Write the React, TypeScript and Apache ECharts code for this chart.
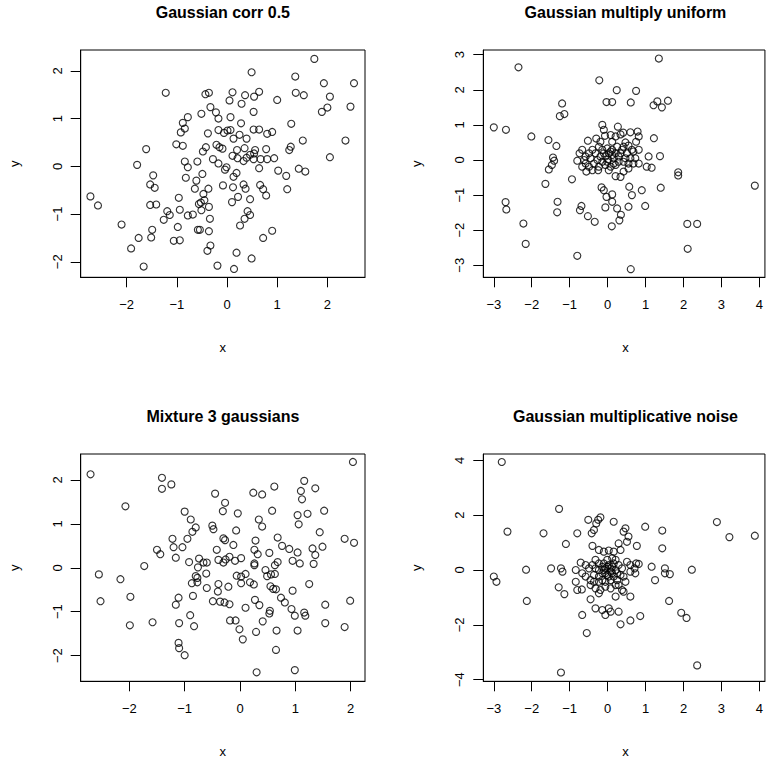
import React, { useEffect, useRef } from "react";
import * as echarts from "echarts";

// ---------- data ----------
const corrX = [-1.22,-0.43,-0.36,-0.33,-0.22,-0.51,-0.78,-0.88,-0.84,-0.92,-0.38,-0.17,-0.17,-1.61,-1.01,-0.88,-0.42,-0.48,-0.21,-0.15,-1.79,-0.84,-0.78,-0.59,-0.28,-0.17,-1.47,-1.53,-1.44,-0.82,-0.61,-0.49,-0.64,-0.37,-2.72,-2.57,-0.96,-1.53,-1.41,-0.47,-0.45,-0.56,-0.52,-0.36,-0.94,-0.51,-1.19,-1.14,-1.26,-0.78,-0.68,-0.34,-2.10,-0.98,-1.49,-1.51,-1.76,-0.58,-0.54,-0.36,-1.91,-1.06,-0.94,-0.33,-0.39,-1.66,-0.19,
  1.74,0.49,1.36,1.93,2.53,0.11,0.36,0.64,0.54,0.05,0.29,1.37,1.53,2.05,1.00,2.00,1.89,2.46,0.07,0.53,0.28,1.28,-0.06,0.01,0.07,0.53,0.64,0.80,0.90,0.13,0.25,0.39,1.51,2.36,-0.09,0.20,0.35,0.56,0.54,0.78,1.27,1.24,0.11,0.21,0.33,0.39,0.46,0.53,0.67,0.80,0.94,2.05,-0.04,-0.01,0.64,1.02,1.18,1.43,1.56,0.19,0.13,-0.08,0.12,0.33,0.37,0.66,0.72,0.78,1.20,0.22,0.10,0.46,0.41,0.35,0.46,0.26,0.90,0.72,0.19,0.49,0.14];
const corrY = [1.54,1.51,1.54,1.24,1.13,1.10,1.03,0.91,0.79,0.71,0.69,1.00,0.76,0.36,0.46,0.43,0.40,0.31,0.45,0.40,0.03,0.10,-0.02,0.10,0.15,0.06,-0.19,-0.38,-0.45,-0.24,-0.30,-0.16,-0.47,-0.47,-0.63,-0.82,-0.66,-0.81,-0.80,-0.58,-0.71,-0.79,-0.76,-0.85,-0.91,-0.92,-0.94,-1.02,-1.12,-1.03,-1.01,-1.10,-1.22,-1.27,-1.33,-1.49,-1.50,-1.33,-1.33,-1.36,-1.72,-1.56,-1.55,-1.66,-1.77,-2.10,-2.08,
  2.25,1.97,1.88,1.74,1.74,1.55,1.49,1.56,1.46,1.38,1.31,1.54,1.49,1.46,1.39,1.23,1.14,1.25,1.03,1.14,0.90,0.89,0.70,0.75,0.76,0.77,0.77,0.68,0.72,0.58,0.66,0.58,0.54,0.54,0.37,0.34,0.38,0.34,0.27,0.36,0.41,0.34,0.22,0.17,0.11,0.18,0.24,0.15,0.15,0.15,0.17,0.19,-0.07,-0.02,-0.04,-0.09,-0.20,-0.05,-0.11,-0.14,-0.22,-0.40,-0.44,-0.38,-0.47,-0.39,-0.48,-0.61,-0.48,-0.64,-0.75,-0.69,-0.94,-1.10,-1.02,-1.24,-1.35,-1.50,-1.81,-1.93,-2.15];

const unifX = [-2.35,-3.00,-2.68,-2.01,-0.22,-0.03,-1.20,-1.56,-1.35,-1.44,-1.41,-1.47,-1.55,-1.64,-2.69,-2.67,-1.32,-1.33,-2.22,-2.16,-0.80,-0.73,-0.52,-0.34,
  1.35,0.24,0.75,0.12,0.61,1.21,1.31,1.43,1.59,1.86,1.86,3.88,0.31,0.35,0.11,2.10,2.36,2.11,0.61,
  -1.26,-1.14,-0.14,-0.10,-0.07,0.27,0.41,0.60,0.79,0.82,1.22,-0.52,-0.30,0.08,0.21,0.34,0.47,0.55,0.75,0.82,-0.67,-0.74,-0.80,-0.62,-0.45,-0.32,-0.23,-0.14,-0.01,0.12,0.25,0.38,0.51,0.60,0.68,0.55,0.42,0.34,0.21,0.08,-0.06,-0.14,-0.23,-0.36,-0.49,-0.56,-0.40,-0.25,0.01,0.16,0.29,0.42,0.73,0.82,1.08,1.38,1.03,1.16,-0.94,-0.16,-0.10,0.12,-0.03,0.12,0.57,0.90,0.64,1.40,-0.69,-0.06,0.25,0.55,0.99,
  0.03,-0.06,0.12,0.21,0.08,-0.10,-0.01,0.16,0.29,-0.19,-0.27,0.34,0.21,0.03,-0.40,-0.49,-0.58,0.64,0.47,0.55,-0.58,-0.67,-0.19,0.12,0.42,0.68];
const unifY = [2.64,0.93,0.86,0.67,2.27,1.65,1.61,0.57,0.40,0.07,-0.02,-0.14,-0.27,-0.68,-1.20,-1.41,-1.19,-1.49,-1.81,-2.39,-2.73,-1.43,-1.60,-1.76,
  2.89,1.99,1.97,1.65,1.64,1.56,1.67,1.50,1.69,-0.35,-0.44,-0.73,-1.72,-1.56,-1.89,-1.82,-1.82,-2.53,-3.11,
  1.25,1.31,1.00,0.86,0.69,0.95,0.78,0.79,0.81,0.67,0.62,0.55,0.61,0.71,0.67,0.73,0.50,0.41,0.52,0.29,0.29,0.19,-0.02,0.00,0.05,0.19,0.38,0.29,0.33,0.29,0.38,0.29,0.19,0.05,-0.10,-0.24,-0.33,-0.48,-0.46,-0.19,-0.14,-0.05,-0.19,-0.10,-0.19,-0.33,-0.29,-0.29,0.02,0.05,0.10,-0.05,0.05,-0.10,0.10,0.11,-0.19,-0.22,-0.55,-0.78,-0.86,-0.98,-1.05,-1.19,-0.76,-0.86,-1.00,-0.79,-1.31,-1.35,-1.38,-1.33,-1.31,
  0.19,0.10,0.14,0.19,0.24,0.19,-0.05,-0.10,-0.05,0.10,0.00,0.19,-0.14,-0.29,0.29,0.19,0.10,0.29,0.05,-0.10,-0.10,-0.19,0.52,0.52,0.38,0.24];

const mixX = [-2.70,-1.41,-1.24,-1.41,-0.45,-2.07,-1.00,-0.89,-0.80,-0.86,-0.50,-0.48,-0.95,-1.22,-1.20,-1.04,-1.50,-1.44,-1.16,-0.42,-0.39,-0.92,-0.74,-0.76,-0.66,-0.60,-0.61,-0.80,-0.77,-0.87,-0.77,-1.73,-2.55,-2.16,-0.60,-0.39,-0.40,-0.49,-2.52,-1.98,-1.11,-1.16,-0.85,-0.90,-0.83,-1.10,-1.58,-1.99,-1.11,-1.10,-1.00,
  2.04,1.16,1.10,1.12,1.36,0.62,0.24,0.40,-0.27,-0.31,-0.04,0.58,0.34,0.40,1.04,1.06,1.22,1.52,-0.07,-0.30,-0.27,1.44,1.89,2.06,0.28,0.68,0.76,0.89,1.04,1.31,1.49,1.36,-0.12,0.26,0.32,0.53,-0.30,-0.26,-0.19,-0.09,0.02,0.26,0.26,0.68,0.63,0.95,1.08,1.33,-0.06,0.02,0.10,0.02,0.18,0.25,0.46,0.49,0.56,0.63,-0.21,0.55,0.60,0.65,0.95,1.25,-0.36,-0.28,-0.19,0.10,0.27,0.35,0.74,0.81,0.93,0.99,1.16,1.18,0.54,0.53,0.41,1.54,1.99,1.54,1.89,-0.18,-0.08,-0.01,0.05,0.29,0.66,1.04,0.65,0.30,0.99];
const mixY = [2.13,2.05,1.90,1.80,1.69,1.40,1.28,1.10,0.92,0.82,0.96,0.88,0.66,0.66,0.47,0.47,0.41,0.31,0.23,0.41,0.18,0.13,0.21,0.01,0.12,0.12,-0.13,-0.19,-0.23,-0.35,-0.33,0.04,-0.15,-0.26,-0.46,-0.37,-0.54,-0.76,-0.76,-0.66,-0.68,-0.84,-0.64,-1.08,-1.33,-1.26,-1.24,-1.31,-1.71,-1.83,-1.99,
  2.41,1.98,1.75,1.56,1.81,1.85,1.71,1.67,1.48,1.29,1.24,1.30,1.10,0.94,1.20,0.99,1.23,1.30,0.85,0.67,0.63,0.81,0.66,0.57,0.62,0.69,0.50,0.43,0.35,0.44,0.48,0.29,0.52,0.41,0.31,0.34,0.12,0.19,0.25,0.16,0.22,0.10,0.06,0.13,0.06,0.16,0.10,0.09,-0.18,-0.20,-0.14,-0.35,-0.33,-0.38,-0.05,-0.19,-0.15,-0.14,-0.43,-0.42,-0.48,-0.49,-0.52,-0.37,-0.77,-0.79,-0.83,-0.91,-0.73,-0.85,-0.68,-0.79,-0.94,-1.09,-1.02,-1.09,-0.98,-1.04,-1.22,-0.84,-0.75,-1.26,-1.35,-1.20,-1.20,-1.40,-1.63,-1.46,-1.43,-1.43,-1.87,-2.38,-2.33];

const noiseX = [-2.79,-1.28,-2.64,-1.69,-2.15,-3.00,-2.93,-2.13,-0.55,-1.23,
  2.88,3.21,3.88,1.64,2.22,1.62,1.94,2.08,0.60,0.34,2.36,
  -0.51,-0.30,-0.19,-0.25,-0.36,-0.42,0.16,0.47,0.42,0.55,0.51,0.99,1.44,-0.80,-1.10,-0.40,0.29,0.77,1.44,-0.23,-0.10,0.03,0.16,0.34,-0.71,-0.58,-0.49,-0.40,-0.32,-0.23,-0.14,-0.06,0.03,0.12,0.21,0.29,0.38,0.51,0.60,0.71,0.82,0.75,1.16,1.51,-1.49,-1.23,-1.19,-0.84,-0.67,-0.58,-0.45,-0.36,-0.23,-0.14,-0.01,0.08,0.16,0.25,0.34,0.42,0.47,0.60,0.73,1.25,1.51,-0.84,-0.45,-0.32,-0.19,-0.06,0.08,0.21,0.38,0.42,-1.29,-1.14,-0.80,-0.68,-0.23,0.21,0.60,-0.45,-0.32,-0.14,0.03,0.08,0.29,0.86,-0.67,-0.06,
  -0.10,-0.01,0.08,0.12,-0.06,0.03,-0.14,0.16,0.25,-0.23,-0.32,-0.10,-0.01,0.12,0.21,0.08,-0.06,-0.23,0.29,-0.36];
const noiseY = [3.94,2.23,1.40,1.34,0.01,-0.24,-0.43,-1.13,-2.30,-3.74,
  1.75,1.20,1.25,-0.15,0.01,-1.13,-1.56,-1.75,-1.84,-1.98,-3.48,
  1.83,1.70,1.92,1.83,1.46,1.34,1.76,1.52,1.40,1.22,1.03,1.58,1.44,1.34,0.95,0.88,0.97,0.88,0.79,0.73,0.67,0.71,0.67,0.73,0.27,0.18,0.06,0.18,0.37,0.24,0.12,0.06,0.18,0.12,0.00,0.18,0.06,0.30,0.18,0.06,0.22,0.24,0.12,0.06,0.06,0.06,-0.06,0.00,-0.12,-0.24,-0.37,-0.18,-0.24,-0.37,-0.18,-0.06,-0.24,-0.37,-0.18,-0.24,-0.43,-0.06,-0.12,-0.37,-0.12,-0.43,-0.55,-0.67,-0.73,-0.61,-0.67,-0.55,-0.73,-0.79,-0.63,-0.88,-0.73,-0.71,-0.85,-0.97,-0.97,-1.07,-1.40,-1.46,-1.40,-1.52,-1.52,-1.68,-1.64,-1.64,
  0.00,0.12,0.06,-0.12,-0.12,-0.24,-0.12,0.24,-0.12,0.00,0.06,0.24,0.37,0.43,0.37,-0.37,-0.43,-0.43,-0.55,-0.43];

const titles = ["Gaussian corr 0.5", "Gaussian multiply uniform", "Mixture 3 gaussians", "Gaussian multiplicative noise"];
const xTicks = [[-2, -1, 0, 1, 2], [-3, -2, -1, 0, 1, 2, 3, 4], [-2, -1, 0, 1, 2], [-3, -2, -1, 0, 1, 2, 3, 4]];
const yTicks = [[-2, -1, 0, 1, 2], [-3, -2, -1, 0, 1, 2, 3], [-2, -1, 0, 1, 2], [-4, -2, 0, 2, 4]];
const xRanges = [[-2.914, 2.749], [-3.277, 4.146], [-2.878, 2.258], [-3.277, 4.146]];
const yRanges = [[-2.325, 2.436], [-3.342, 3.134], [-2.585, 2.592], [-4.061, 4.232]];
const xData = [corrX, unifX, mixX, noiseX];
const yData = [corrY, unifY, mixY, noiseY];

// ---------- layout ----------
const FONT = "'Liberation Sans', Arial, Helvetica, sans-serif";
const lefts = [80.7, 483.3, 80.7, 483.3];
const tops = [50, 50, 454, 454];
const GW = 284.3;
const GH = 227.3;

const fmt = (v: number) => (v < 0 ? "\u2212" + Math.abs(v) : String(v));

export default function App() {
  const ref = useRef<HTMLDivElement>(null);
  useEffect(() => {
    if (!ref.current) return;
    const chart = echarts.init(ref.current, undefined, { renderer: "svg" });
    const grids = lefts.map((l, i) => ({
      left: l, top: tops[i], width: GW, height: GH,
      show: true, borderColor: "#000", borderWidth: 1, backgroundColor: "transparent",
    }));
    const axisCommon = {
      type: "value" as const,
      splitLine: { show: false },
      axisLine: { show: true, onZero: false, lineStyle: { color: "#000", width: 1 } },
    };
    const xAxes = xTicks.map((t, i) => ({
      ...axisCommon,
      gridIndex: i,
      min: xRanges[i][0], max: xRanges[i][1],
      axisTick: { show: true, customValues: t, length: 10, lineStyle: { color: "#000" } },
      axisLabel: { show: true, customValues: t, formatter: fmt, margin: 21, fontSize: 13, color: "#000", fontFamily: FONT },
    }));
    const yAxes = yTicks.map((t, i) => ({
      ...axisCommon,
      gridIndex: i,
      min: yRanges[i][0], max: yRanges[i][1],
      axisTick: { show: true, customValues: t, length: 10, lineStyle: { color: "#000" } },
      axisLabel: { show: true, customValues: t, formatter: fmt, margin: 17, rotate: 90, fontSize: 13, color: "#000", fontFamily: FONT },
    }));
    const series = xData.map((xs, i) => ({
      type: "scatter" as const,
      xAxisIndex: i, yAxisIndex: i,
      data: xs.map((x, j) => [x, yData[i][j]]),
      symbol: "circle", symbolSize: 7,
      itemStyle: { color: "rgba(0,0,0,0)", borderColor: "#000", borderWidth: 1.15 },
      silent: true,
    }));
    const textEl = (text: string, x: number, y: number, size: number, bold: boolean, rot = 0) => ({
      type: "text", x, y, rotation: rot, silent: true,
      style: {
        text, fill: "#000", font: `${bold ? "bold " : ""}${size}px ${FONT}`,
        textAlign: "center", textVerticalAlign: "middle", align: "center", verticalAlign: "middle",
      },
    });
    const graphics: any[] = [];
    titles.forEach((t, i) => {
      const cx = lefts[i] + GW / 2;
      graphics.push(textEl(t, cx, tops[i] - 38, 16, true));
      graphics.push(textEl("x", cx, tops[i] + GH + 70, 13, false));
      graphics.push(textEl("y", lefts[i] - 66.5, tops[i] + GH / 2, 13, false, Math.PI / 2));
    });
    chart.setOption({
      animation: false,
      backgroundColor: "#fff",
      grid: grids,
      xAxis: xAxes,
      yAxis: yAxes,
      series,
      graphic: graphics,
    });
    return () => chart.dispose();
  }, []);
  return <div ref={ref} style={{ position: "absolute", left: 0, top: 0, width: 766, height: 760 }} />;
}
